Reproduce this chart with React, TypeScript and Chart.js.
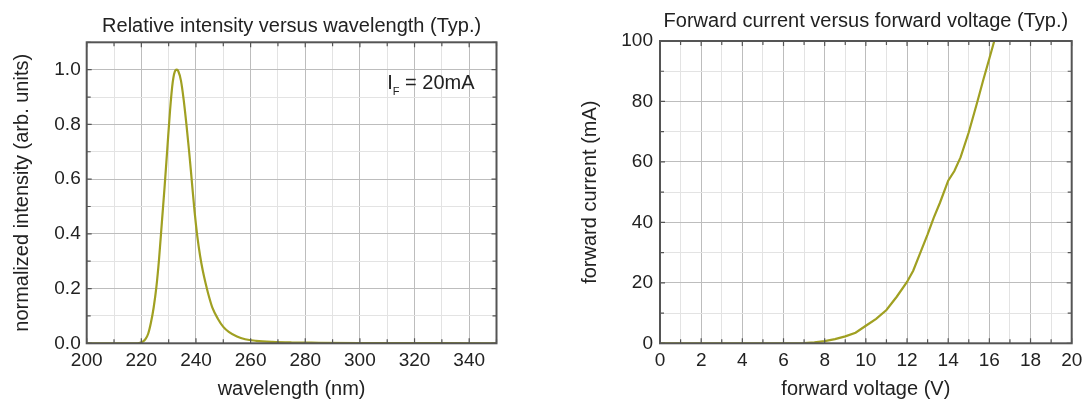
import React, { useEffect, useRef } from "react";
import { Chart, registerables } from "chart.js";

Chart.register(...registerables);

const FONT = "'Liberation Sans', Arial, Helvetica, sans-serif";
const TEXT = "#222222";
const LINE = "#a0a022";
const GRID_MAJOR = "#bdbdbd";
const GRID_MINOR = "#e3e3e3";
const FRAME = "#555555";

// ---- Left chart: relative intensity versus wavelength ----
const wavelengthNm = [
  200, 210, 218, 219.5, 220.5, 221.5, 222.5, 223.5, 224.5, 225.5, 226.5, 227.5, 228.5,
  229.5, 230.5, 231.5, 232.5, 233, 233.5, 234.5, 235.5, 236.5, 237.5, 238.5, 239.5,
  240.5, 241.5, 242.5, 243.5, 244.5, 246, 248, 250, 252, 255, 258, 262, 268, 275, 285,
  300, 320, 350,
];
const relIntensity = [
  0, 0, 0, 0.002, 0.006, 0.015, 0.035, 0.075, 0.13, 0.205, 0.31, 0.44, 0.57,
  0.71, 0.85, 0.955, 0.998, 1.0, 0.995, 0.96, 0.89, 0.8, 0.7, 0.59, 0.48,
  0.39, 0.32, 0.265, 0.22, 0.18, 0.13, 0.09, 0.06, 0.042, 0.025, 0.015, 0.009, 0.005, 0.003, 0.002,
  0.001, 0.0005, 0,
];
const wavelengthTicks = [200, 210, 220, 230, 240, 250, 260, 270, 280, 290, 300, 310, 320, 330, 340, 350];
const wavelengthLabels = [200, 220, 240, 260, 280, 300, 320, 340];
const intensityTicks = [0, 0.1, 0.2, 0.3, 0.4, 0.5, 0.6, 0.7, 0.8, 0.9, 1.0, 1.1];
const intensityLabels = [0, 0.2, 0.4, 0.6, 0.8, 1.0];
const annotationPos = { x: 310, y: 0.95 };

// ---- Right chart: forward current versus forward voltage ----
const forwardVoltage = [
  0, 1, 2, 3, 4, 5, 6, 6.5, 7, 7.5, 8, 8.5, 9, 9.5, 10, 10.5, 11, 11.5, 12, 12.3,
  12.6, 13, 13.3, 13.6, 14, 14.3, 14.6, 15, 15.4, 15.7, 16, 16.3,
];
const forwardCurrent = [
  0, 0, 0, 0, 0, 0, 0, 0.02, 0.1, 0.3, 0.7, 1.4, 2.3, 3.5, 5.8, 8.1, 11.0, 15.4, 20.3, 24.0,
  29.2, 36.0, 41.6, 46.5, 53.8, 57.0, 61.5, 69.8, 79.5, 87.0, 94.2, 101.5,
];
const voltageTicks = [0, 1, 2, 3, 4, 5, 6, 7, 8, 9, 10, 11, 12, 13, 14, 15, 16, 17, 18, 19, 20];
const voltageLabels = [0, 2, 4, 6, 8, 10, 12, 14, 16, 18, 20];
const currentTicks = [0, 10, 20, 30, 40, 50, 60, 70, 80, 90, 100];
const currentLabels = [0, 20, 40, 60, 80, 100];

const isIn = (list: number[], v: number) => list.some((l) => Math.abs(l - v) < 1e-6);

const framePlugin = {
  id: "frame",
  afterDatasetsDraw(chart: any) {
    const { ctx, chartArea } = chart;
    const { left, right, top, bottom } = chartArea;
    const xs = chart.scales.x;
    const ys = chart.scales.y;
    ctx.save();
    ctx.strokeStyle = FRAME;
    ctx.lineWidth = 1.2;
    ctx.beginPath();
    xs.ticks.forEach((t: any) => {
      const p = xs.getPixelForValue(t.value);
      const len = t.label ? 5 : 4;
      ctx.moveTo(p, bottom);
      ctx.lineTo(p, bottom - len);
      ctx.moveTo(p, top);
      ctx.lineTo(p, top + len);
    });
    ys.ticks.forEach((t: any) => {
      const p = ys.getPixelForValue(t.value);
      const len = t.label ? 5 : 4;
      ctx.moveTo(left, p);
      ctx.lineTo(left + len, p);
      ctx.moveTo(right, p);
      ctx.lineTo(right - len, p);
    });
    ctx.stroke();
    ctx.lineWidth = 2;
    ctx.strokeRect(left, top, right - left, bottom - top);
    ctx.restore();
  },
};

const annotationPlugin = {
  id: "ifLabel",
  afterDatasetsDraw(chart: any) {
    const { ctx } = chart;
    const px = chart.scales.x.getPixelForValue(annotationPos.x);
    const py = chart.scales.y.getPixelForValue(annotationPos.y);
    ctx.save();
    ctx.fillStyle = TEXT;
    ctx.textAlign = "left";
    ctx.textBaseline = "middle";
    ctx.font = `20px ${FONT}`;
    ctx.fillText("I", px, py);
    const wi = ctx.measureText("I").width;
    ctx.font = `11px ${FONT}`;
    ctx.fillText("F", px + wi, py + 9);
    const wf = ctx.measureText("F").width;
    ctx.font = `20px ${FONT}`;
    ctx.fillText(" = 20mA", px + wi + wf, py);
    ctx.restore();
  },
};

type Cfg = {
  xs: number[];
  ys: number[];
  xTicks: number[];
  xLabels: number[];
  yTicks: number[];
  yLabels: number[];
  xMin: number;
  xMax: number;
  yMin: number;
  yMax: number;
  yFmt: (v: number) => string;
  title: string;
  titlePad: { top: number; bottom: number };
  xTitle: string;
  yTitle: string;
  yAxisWidth: number;
  yTitlePad: number;
  yTickPad: number;
  padRight: number;
  smooth: boolean;
  plugins: any[];
};

function makeConfig(c: Cfg): any {
  return {
    type: "line",
    data: {
      datasets: [
        {
          data: c.xs.map((v, i) => ({ x: v, y: c.ys[i] })),
          borderColor: LINE,
          backgroundColor: LINE,
          borderWidth: 2.2,
          pointRadius: 0,
          fill: false,
          tension: 0,
          cubicInterpolationMode: c.smooth ? "monotone" : "default",
        },
      ],
    },
    options: {
      responsive: false,
      animation: false,
      devicePixelRatio: 1,
      layout: { padding: { left: 0, right: c.padRight, top: 0, bottom: 0 } },
      plugins: {
        legend: { display: false },
        tooltip: { enabled: false },
        title: {
          display: true,
          text: c.title,
          color: TEXT,
          fullSize: false,
          font: { family: FONT, size: 20, weight: "normal", lineHeight: 1.2 },
          padding: c.titlePad,
        },
      },
      scales: {
        x: {
          type: "linear",
          min: c.xMin,
          max: c.xMax,
          afterBuildTicks: (s: any) => {
            s.ticks = c.xTicks.map((v) => ({ value: v }));
          },
          afterFit: (s: any) => {
            s.height = 403 - 343.3;
          },
          ticks: {
            autoSkip: false,
            maxRotation: 0,
            padding: 6,
            color: TEXT,
            font: { family: FONT, size: 19 },
            callback: (v: number) => (isIn(c.xLabels, v) ? String(v) : ""),
          },
          grid: {
            drawTicks: false,
            color: (ctx: any) => (ctx.tick && isIn(c.xLabels, ctx.tick.value) ? GRID_MAJOR : GRID_MINOR),
          },
          border: { display: false },
          title: {
            display: true,
            text: c.xTitle,
            color: TEXT,
            font: { family: FONT, size: 20, lineHeight: 1.2 },
            padding: { top: 0, bottom: 2 },
          },
        },
        y: {
          type: "linear",
          min: c.yMin,
          max: c.yMax,
          afterBuildTicks: (s: any) => {
            s.ticks = c.yTicks.map((v) => ({ value: v }));
          },
          afterFit: (s: any) => {
            s.width = c.yAxisWidth;
          },
          ticks: {
            autoSkip: false,
            padding: c.yTickPad,
            color: TEXT,
            font: { family: FONT, size: 19 },
            callback: (v: number) => (isIn(c.yLabels, v) ? c.yFmt(v) : ""),
          },
          grid: {
            drawTicks: false,
            color: (ctx: any) => (ctx.tick && isIn(c.yLabels, ctx.tick.value) ? GRID_MAJOR : GRID_MINOR),
          },
          border: { display: false },
          title: {
            display: true,
            text: c.yTitle,
            color: TEXT,
            font: { family: FONT, size: 20, lineHeight: 1.2 },
            padding: { top: c.yTitlePad, bottom: 0 },
          },
        },
      },
    },
    plugins: c.plugins,
  };
}

export default function App() {
  const leftRef = useRef<HTMLCanvasElement | null>(null);
  const rightRef = useRef<HTMLCanvasElement | null>(null);

  useEffect(() => {
    const left = new Chart(
      leftRef.current as HTMLCanvasElement,
      makeConfig({
        xs: wavelengthNm,
        ys: relIntensity,
        xTicks: wavelengthTicks,
        xLabels: wavelengthLabels,
        yTicks: intensityTicks,
        yLabels: intensityLabels,
        xMin: 200,
        xMax: 350,
        yMin: 0,
        yMax: 1.1,
        yFmt: (v) => v.toFixed(1),
        title: "Relative intensity versus wavelength (Typ.)",
        titlePad: { top: 14, bottom: 4.3 },
        xTitle: "wavelength (nm)",
        yTitle: "normalized intensity (arb. units)",
        yAxisWidth: 86.7,
        yTitlePad: 10,
        yTickPad: 6,
        padRight: 545 - 496.5,
        smooth: true,
        plugins: [framePlugin, annotationPlugin],
      })
    );
    const right = new Chart(
      rightRef.current as HTMLCanvasElement,
      makeConfig({
        xs: forwardVoltage,
        ys: forwardCurrent,
        xTicks: voltageTicks,
        xLabels: voltageLabels,
        yTicks: currentTicks,
        yLabels: currentLabels,
        xMin: 0,
        xMax: 20,
        yMin: 0,
        yMax: 100,
        yFmt: (v) => String(v),
        title: "Forward current versus forward voltage (Typ.)",
        titlePad: { top: 9, bottom: 8 },
        xTitle: "forward voltage (V)",
        yTitle: "forward current (mA)",
        yAxisWidth: 115,
        yTitlePad: 33,
        yTickPad: 7,
        padRight: 1090 - 1071.7,
        smooth: false,
        plugins: [framePlugin],
      })
    );
    return () => {
      left.destroy();
      right.destroy();
    };
  }, []);

  return (
    <div
      style={{
        position: "absolute",
        left: 0,
        top: 0,
        width: 1090,
        height: 403,
        background: "#ffffff",
        overflow: "hidden",
      }}
    >
      <canvas
        ref={leftRef}
        width={545}
        height={403}
        style={{ position: "absolute", left: 0, top: 0, width: 545, height: 403 }}
      />
      <canvas
        ref={rightRef}
        width={545}
        height={403}
        style={{ position: "absolute", left: 545, top: 0, width: 545, height: 403 }}
      />
    </div>
  );
}
